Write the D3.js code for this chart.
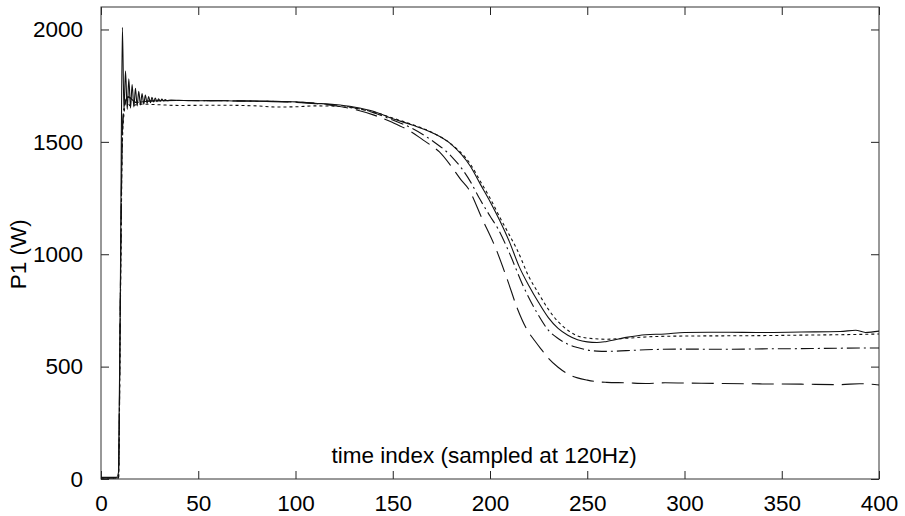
<!DOCTYPE html>
<html>
<head>
<meta charset="utf-8">
<script src="https://cdn.jsdelivr.net/npm/d3@7"></script>
<style>
  body { margin: 0; background: #fff; }
  svg { display: block; }
  text { font-family: "Liberation Sans", Arial, Helvetica, sans-serif; fill: #000; }
</style>
</head>
<body>
<div id="chart"></div>
<script>
// values, [time index, P1 in W]
const solid = [
  [0, 8], [8, 8], [9, 30], [10, 900], [11, 2010], [11.8, 1640], [12.6, 1815], [13.5, 1645],
  [14.3, 1780], [15.2, 1650], [16.0, 1755], [16.9, 1655], [17.7, 1738], [18.6, 1660],
  [19.4, 1725], [20.3, 1664], [21.1, 1715], [22.0, 1668], [22.8, 1708], [23.7, 1671],
  [24.5, 1702], [25.4, 1674], [26.2, 1698], [27.1, 1677], [27.9, 1695], [28.8, 1679],
  [29.6, 1692], [30.5, 1681], [31.3, 1690], [32.2, 1682], [33, 1688], [34, 1683],
  [36, 1686], [40, 1685], [50, 1683], [60, 1684], [70, 1682], [80, 1682], [90, 1681],
  [100, 1678], [110, 1672], [120, 1666], [130, 1655], [140, 1636], [150, 1603],
  [160, 1575], [170, 1542], [180, 1490], [190, 1390], [195, 1312], [200, 1235],
  [205, 1150], [210, 1055], [215, 945], [220, 860], [225, 785], [230, 718], [235, 670],
  [240, 640], [245, 620], [250, 610], [255, 607], [260, 612], [270, 630], [280, 642],
  [290, 645], [300, 652], [320, 653], [340, 652], [360, 654], [380, 656], [388, 662],
  [393, 652], [400, 658]
];

const dotted = [
  [0, 5], [9, 5], [10, 800], [11, 1500], [12, 1640], [13, 1690], [15, 1660], [20, 1668],
  [30, 1665], [40, 1662], [60, 1663], [80, 1660], [90, 1655], [100, 1656], [110, 1660],
  [120, 1659], [130, 1650], [140, 1633], [150, 1606], [160, 1577], [170, 1543],
  [180, 1490], [190, 1400], [195, 1325], [200, 1250], [205, 1165], [210, 1085],
  [214, 1019], [220, 900], [225, 825], [230, 755], [235, 700], [240, 662], [245, 637],
  [250, 627], [260, 622], [270, 626], [280, 632], [290, 635], [300, 636], [320, 637],
  [340, 638], [360, 640], [380, 642], [400, 645]
];

const dashDot = [
  [0, 5], [9, 5], [10, 850], [11, 1550], [12, 1660], [14, 1700], [18, 1675], [25, 1682],
  [40, 1684], [60, 1683], [80, 1681], [100, 1677], [120, 1664], [130, 1652],
  [140, 1630], [150, 1597], [160, 1560], [170, 1507], [180, 1437], [186, 1375],
  [190, 1322], [195, 1242], [200, 1170], [204, 1115], [210, 1005], [217, 860],
  [224, 742], [230, 662], [235, 625], [240, 600], [245, 585], [250, 574], [255, 569],
  [260, 568], [270, 571], [280, 575], [300, 578], [320, 577], [340, 579], [360, 580],
  [380, 582], [400, 583]
];

const longDash = [
  [0, 5], [9, 5], [10, 850], [11, 1550], [12, 1660], [14, 1700], [18, 1675], [25, 1682],
  [40, 1684], [60, 1683], [80, 1681], [100, 1676], [110, 1670], [120, 1661],
  [130, 1645], [140, 1620], [150, 1586], [160, 1542], [165, 1512], [170, 1482],
  [174, 1455], [180, 1392], [185, 1332], [189, 1290], [196, 1157], [203, 1025],
  [209, 885], [214, 760], [219, 665], [223, 615], [227, 570], [230, 537], [235, 497],
  [241, 463], [245, 450], [250, 440], [256, 432], [260, 430], [270, 428], [280, 425],
  [290, 428], [300, 427], [320, 425], [340, 423], [360, 422], [380, 420], [390, 424],
  [400, 418]
];

const xTicks = [0, 50, 100, 150, 200, 250, 300, 350, 400];
const yTicks = [0, 500, 1000, 1500, 2000];

const series = [
  { data: longDash, dash: "22,8" },
  { data: dashDot, dash: "13,4,2,4" },
  { data: dotted, dash: "3,3" },
  { data: solid, dash: null }
];

const width = 905, height = 516;
const margin = { top: 7, right: 26, bottom: 37, left: 101 };
const w = width - margin.left - margin.right;
const h = height - margin.top - margin.bottom;
const fontSize = 22.5;

const svg = d3.select("#chart").append("svg")
  .attr("width", width)
  .attr("height", height);

const g = svg.append("g")
  .attr("transform", `translate(${margin.left},${margin.top})`);

const x = d3.scaleLinear().domain([0, 400]).range([0, w]);
const y = d3.scaleLinear().domain([0, 2100]).range([h, 0]);

// axes, ticks pointing inward like matlab
const tickLen = 8;
const fmt = d3.format("d");

g.append("g")
  .attr("transform", `translate(0,${h})`)
  .call(d3.axisBottom(x).tickValues(xTicks).tickFormat(fmt).tickSizeInner(-tickLen).tickSizeOuter(0).tickPadding(16))
  .call(a => a.select(".domain").remove());

g.append("g")
  .call(d3.axisTop(x).tickValues(xTicks).tickSizeInner(-tickLen).tickSizeOuter(0).tickFormat(""))
  .call(a => a.select(".domain").remove());

g.append("g")
  .call(d3.axisLeft(y).tickValues(yTicks).tickFormat(fmt).tickSizeInner(-tickLen).tickSizeOuter(0).tickPadding(18))
  .call(a => a.select(".domain").remove());

g.append("g")
  .attr("transform", `translate(${w},0)`)
  .call(d3.axisRight(y).tickValues(yTicks).tickSizeInner(-tickLen).tickSizeOuter(0).tickFormat(""))
  .call(a => a.select(".domain").remove());

g.selectAll(".tick line").attr("stroke", "#222");
g.selectAll(".tick text")
  .attr("font-size", fontSize)
  .attr("font-family", '"Liberation Sans", Arial, sans-serif')
  .attr("fill", "#000");

g.append("rect")
  .attr("width", w)
  .attr("height", h)
  .attr("fill", "none")
  .attr("stroke", "#333")
  .attr("stroke-width", 1);

const line = d3.line()
  .x(d => x(d[0]))
  .y(d => y(d[1]))
  .curve(d3.curveMonotoneX);

g.selectAll(".series")
  .data(series)
  .join("path")
  .attr("class", "series")
  .attr("d", d => line(d.data))
  .attr("fill", "none")
  .attr("stroke", "#111")
  .attr("stroke-width", 1.1)
  .attr("stroke-dasharray", d => d.dash);

// labels
g.append("text")
  .attr("x", x(197))
  .attr("y", h - 16)
  .attr("text-anchor", "middle")
  .attr("font-size", fontSize)
  .text("time index (sampled at 120Hz)");

svg.append("text")
  .attr("transform", `translate(26,${margin.top + y(1000)}) rotate(-90)`)
  .attr("text-anchor", "middle")
  .attr("font-size", fontSize)
  .text("P1 (W)");
</script>
</body>
</html>
